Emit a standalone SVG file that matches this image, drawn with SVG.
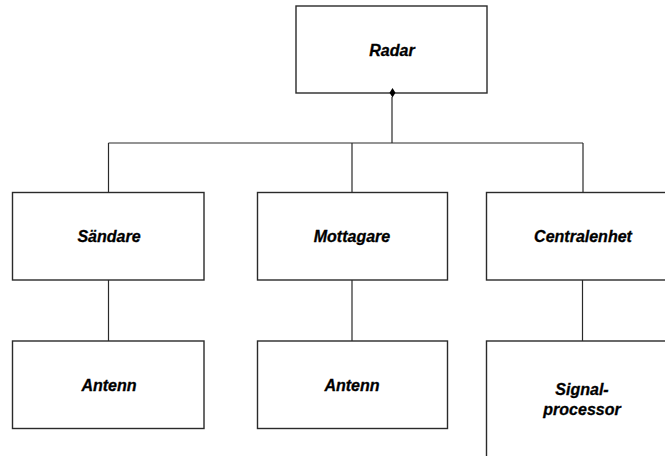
<svg xmlns="http://www.w3.org/2000/svg" width="665" height="456" viewBox="0 0 665 456">
<style>
.box{fill:#fff;stroke:#2a2a2a;stroke-width:1.4}
.lbl{font-family:"Liberation Sans",Arial,sans-serif;font-size:16px;font-weight:bold;font-style:italic;fill:#000;text-anchor:middle;stroke:#000;stroke-width:0.3}
.ln{fill:none;stroke:#2a2a2a;stroke-width:1.2}
</style>
<rect width="665" height="456" fill="#fff"/>
<g id="radar"><rect class="box" x="296" y="6" width="191" height="87"/><text class="lbl" x="392" y="56">Radar</text></g>
<g id="sandare"><rect class="box" x="12.5" y="192.5" width="191.5" height="87.5"/><text class="lbl" x="109" y="241.5">Sändare</text></g>
<g id="mottagare"><rect class="box" x="257.5" y="192.5" width="190" height="87.5"/><text class="lbl" x="352" y="241.5">Mottagare</text></g>
<g id="centralenhet"><rect class="box" x="486.5" y="192.5" width="192" height="87.5"/><text class="lbl" x="583" y="241.5">Centralenhet</text></g>
<g id="antenn1"><rect class="box" x="12.5" y="341" width="191.5" height="87.5"/><text class="lbl" x="109" y="391">Antenn</text></g>
<g id="antenn2"><rect class="box" x="257.5" y="341" width="190" height="87.5"/><text class="lbl" x="352" y="391">Antenn</text></g>
<g id="signalprocessor"><rect class="box" x="486.5" y="341" width="192" height="130"/><text class="lbl" x="582" y="395">Signal-</text><text class="lbl" x="582" y="415">processor</text></g>
<g id="connectors">
<path class="ln" d="M392 97 V143 M108.5 143 H583 M108.5 143 V192 M352 143 V192 M583 143 V192 M108.5 280 V341 M352 280 V341 M582.5 280 V341"/>
<polygon points="392.5,88 395.5,92.8 392.5,97.5 389.5,92.8" fill="#000"/>
</g>
</svg>
